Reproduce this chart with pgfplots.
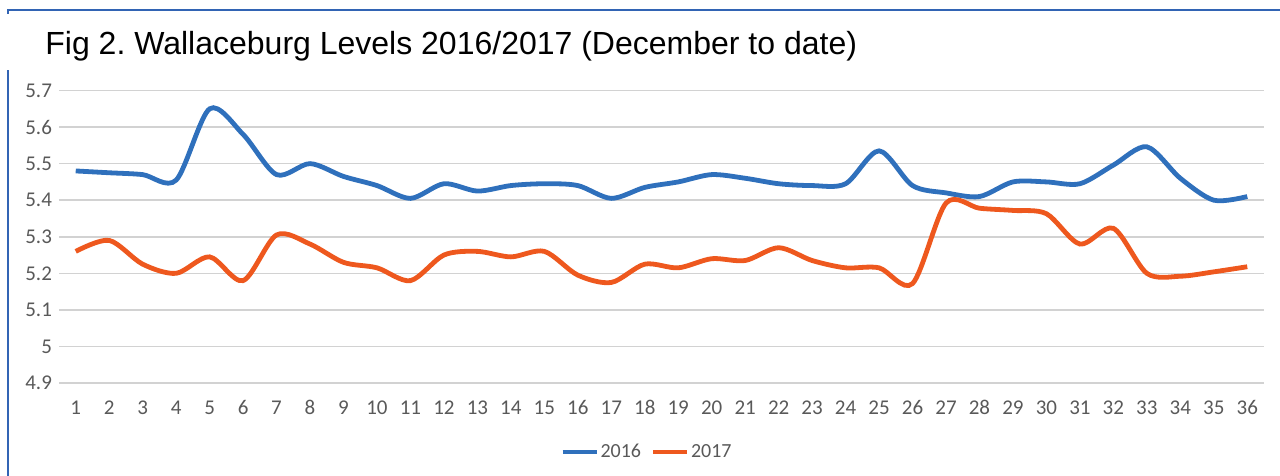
\documentclass[border=0pt]{standalone}
\usepackage{pgfplots}
\pgfplotsset{compat=1.18}
\usepackage{fontspec}
\setmainfont{Carlito}
\newfontfamily\titlefont{Liberation Sans}
\definecolor{sblue}{RGB}{47,112,188}
\definecolor{sorange}{RGB}{238,88,30}
\definecolor{framec}{RGB}{50,100,180}
\definecolor{gridc}{RGB}{210,210,210}
\definecolor{tickc}{RGB}{89,89,89}
\frenchspacing
\begin{document}
\begin{tikzpicture}
\path[use as bounding box] (0,0) rectangle (640pt,238pt);
\draw[framec, line width=1pt] (4pt,0pt) -- (4pt,203pt);
\draw[framec, line width=1pt] (4pt,231pt) -- (4pt,233pt) -- (640pt,233pt);
\node[anchor=base west, inner sep=0pt, font=\titlefont\fontsize{16}{19}\selectfont] at (22.5pt,210.5pt) {Fig 2. Wallaceburg Levels 2016/2017 (December to date)};
\begin{axis}[
  at={(29.5pt,46.5pt)}, anchor=south west,
  scale only axis, width=602.5pt, height=146.25pt,
  xmin=0.5, xmax=36.5, ymin=4.9, ymax=5.7,
  xtick={1,...,36},
  ytick={4.9,5,5.1,5.2,5.3,5.4,5.5,5.6,5.7},
  yticklabels={4.9,5,5.1,5.2,5.3,5.4,5.5,5.6,5.7},
  axis line style={draw=none},
  major tick length=0pt,
  ymajorgrids, grid style={gridc, line width=0.75pt},
  tick label style={font=\fontsize{10.5}{12}\selectfont, text=tickc},
  xticklabel style={anchor=base, yshift=-16pt},
  /pgf/number format/assume math mode=true,
  clip=false,
  legend columns=2,
  legend style={at={(0.488,-0.236)}, anchor=center, draw=none, fill=none,
    font=\fontsize{10}{12}\selectfont, text=tickc,
    nodes={inner xsep=1pt},
    /tikz/every even column/.append style={column sep=4pt}},
  legend image code/.code={\draw[#1, line width=2pt] (0pt,0pt) -- (17pt,0pt);},
]
\addplot[sblue, line width=2.4pt, smooth, tension=0.5] coordinates {
(1,5.48)(2,5.475)(3,5.47)(4,5.455)(5,5.65)(6,5.58)(7,5.47)(8,5.50)(9,5.465)(10,5.44)
(11,5.405)(12,5.445)(13,5.425)(14,5.44)(15,5.445)(16,5.44)(17,5.405)(18,5.435)(19,5.45)(20,5.47)
(21,5.46)(22,5.445)(23,5.44)(24,5.445)(25,5.535)(26,5.44)(27,5.42)(28,5.41)(29,5.45)(30,5.45)
(31,5.445)(32,5.496)(33,5.546)(34,5.46)(35,5.40)(36,5.41)};
\addlegendentry{2016}
\addplot[sorange, line width=2.4pt, smooth, tension=0.5] coordinates {
(1,5.26)(2,5.29)(3,5.225)(4,5.2)(5,5.245)(6,5.18)(7,5.305)(8,5.28)(9,5.23)(10,5.215)
(11,5.18)(12,5.25)(13,5.26)(14,5.245)(15,5.26)(16,5.195)(17,5.175)(18,5.225)(19,5.215)(20,5.24)
(21,5.235)(22,5.27)(23,5.235)(24,5.215)(25,5.215)(26,5.172)(27,5.392)(28,5.378)(29,5.372)(30,5.363)
(31,5.28)(32,5.323)(33,5.2)(34,5.192)(35,5.204)(36,5.218)};
\addlegendentry{2017}
\end{axis}
\end{tikzpicture}
\end{document}
